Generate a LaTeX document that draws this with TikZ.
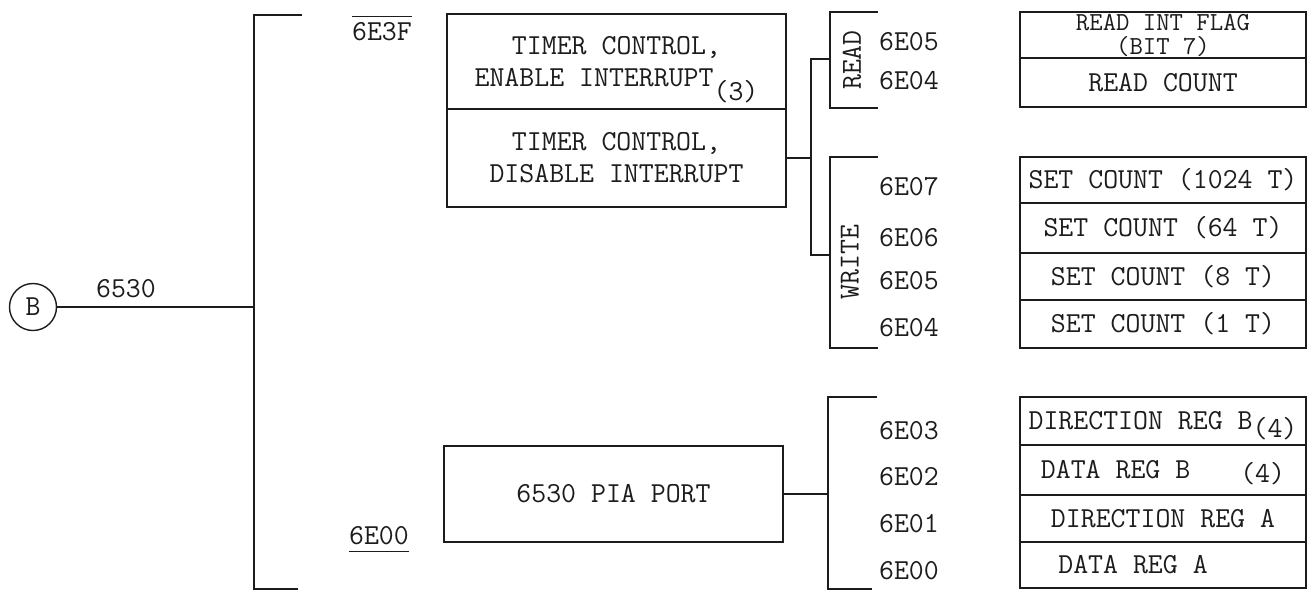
\documentclass[tikz,border=0pt]{standalone}
\usetikzlibrary{calc,positioning}
\definecolor{Ink}{HTML}{1C1C1C}
\newcommand\tyfont{\fontsize{29}{32}\selectfont\ttfamily}

\begin{document}
\begin{tikzpicture}[x=1pt,y=-1pt,line width=1.6pt,color=Ink,
    txt/.style={font=\tyfont,inner sep=2pt},
    blk/.style={draw,line width=1.8pt,minimum width=339pt,inner sep=0pt,outer sep=0pt,align=center,font=\tyfont},
    reg/.style={draw,minimum width=286pt,inner sep=0pt,outer sep=0pt,align=center,font=\tyfont,anchor=north west}]
    \useasboundingbox (0,0) rectangle (1307,590);
    % entry and address bus
    \node[circle,draw,line width=1.4pt,minimum size=47pt,inner sep=0pt,font=\tyfont] (b) at (33,307) {B};
    \coordinate (bustop) at (254,15);
    \coordinate (busbot) at (254,589);
    \coordinate (topend) at (302,15);
    \coordinate (botend) at (298,589);
    \draw (b.east) -- (b.east -| bustop);
    \draw (topend) -- (bustop) -- (busbot) -- (botend);
    \node[txt] (chip) at (126,289) {6530};
    \node[txt] (hi) at (382,28) {$\overline{\rule{0pt}{23pt}\hbox{6E3F}}$};
    \node[txt] (lo) at (379,539) {\underline{\rule[-5pt]{0pt}{5pt}6E00}};
    % blocks
    \node[blk,minimum height=95pt] (ten) at (616.5,61.5) {TIMER CONTROL,\\ENABLE INTERRUPT\smash{\raisebox{-14pt}{(3)}}};
    \node[blk,minimum height=98pt] (tdis) at (616.5,158) {TIMER CONTROL,\\DISABLE INTERRUPT};
    \node[blk,minimum height=96pt] (pia) at (613.5,494) {6530 PIA PORT};
    % read / write brackets
    \coordinate (tj) at (811,158);
    \coordinate (rdt) at (830,12);
    \coordinate (rdb) at (830,108);
    \coordinate (rdm) at (830,59);
    \coordinate (wrt) at (830,157);
    \coordinate (wrb) at (830,348);
    \coordinate (wrm) at (830,255);
    \draw (tdis.east) -- (tj);
    \draw (rdm) -- (rdm -| tj) -- (wrm -| tj) -- (wrm);
    \draw ([xshift=48pt]rdt) -- (rdt) -- (rdb) -- ([xshift=48pt]rdb);
    \draw ([xshift=48pt]wrt) -- (wrt) -- (wrb) -- ([xshift=48pt]wrb);
    \node[txt,rotate=90] (rd) at (852,60) {READ};
    \node[txt,rotate=90] (wr) at (850,262) {WRITE};
    % pia bracket
    \coordinate (pt) at (828,397);
    \coordinate (pb) at (828,589);
    \draw (pia.east) -- (pia.east -| pt);
    \draw ([xshift=49pt]pt) -- (pt) -- (pb) -- ([xshift=44pt]pb);
    % addresses
    \node[txt] (r05) at (909,42) {6E05};
    \node[txt] (r04) at (909,81) {6E04};
    \node[txt] (w07) at (909,187) {6E07};
    \node[txt] (w06) at (909,238) {6E06};
    \node[txt] (w05) at (909,281) {6E05};
    \node[txt] (w04) at (909,328) {6E04};
    \node[txt] (p03) at (909,431) {6E03};
    \node[txt] (p02) at (909,477) {6E02};
    \node[txt] (p01) at (909,524) {6E01};
    \node[txt] (p00) at (909,571) {6E00};
    % registers
    \node[reg,minimum height=46pt,font=\fontsize{26}{24}\selectfont\ttfamily] (flag) at (1020,12) {READ INT FLAG\\(BIT 7)};
    \node[reg,minimum height=49pt,below=0pt of flag] (cnt) {READ COUNT};
    \node[reg,minimum height=46pt] (s1024) at (1020,157) {SET COUNT (1024 T)};
    \node[reg,minimum height=50pt,below=0pt of s1024] (s64) {SET COUNT (64 T)};
    \node[reg,minimum height=47pt,below=0pt of s64] (s8) {SET COUNT (8 T)};
    \node[reg,minimum height=48pt,below=0pt of s8] (s1) {SET COUNT (1 T)};
    \node[reg,minimum height=48pt] (ddrb) at (1020,397) {DIRECTION REG B\smash{\raisebox{-8pt}{(4)}}};
    \node[reg,minimum height=50pt,below=0pt of ddrb] (drb) {DATA REG B\hspace*{50pt}\smash{\raisebox{-4pt}{(4)}}};
    \node[reg,minimum height=47pt,below=0pt of drb] (ddra) {DIRECTION REG A};
    \node[reg,minimum height=46pt,below=0pt of ddra] (dra) {DATA REG A\hspace*{60pt}};
\end{tikzpicture}
\end{document}
